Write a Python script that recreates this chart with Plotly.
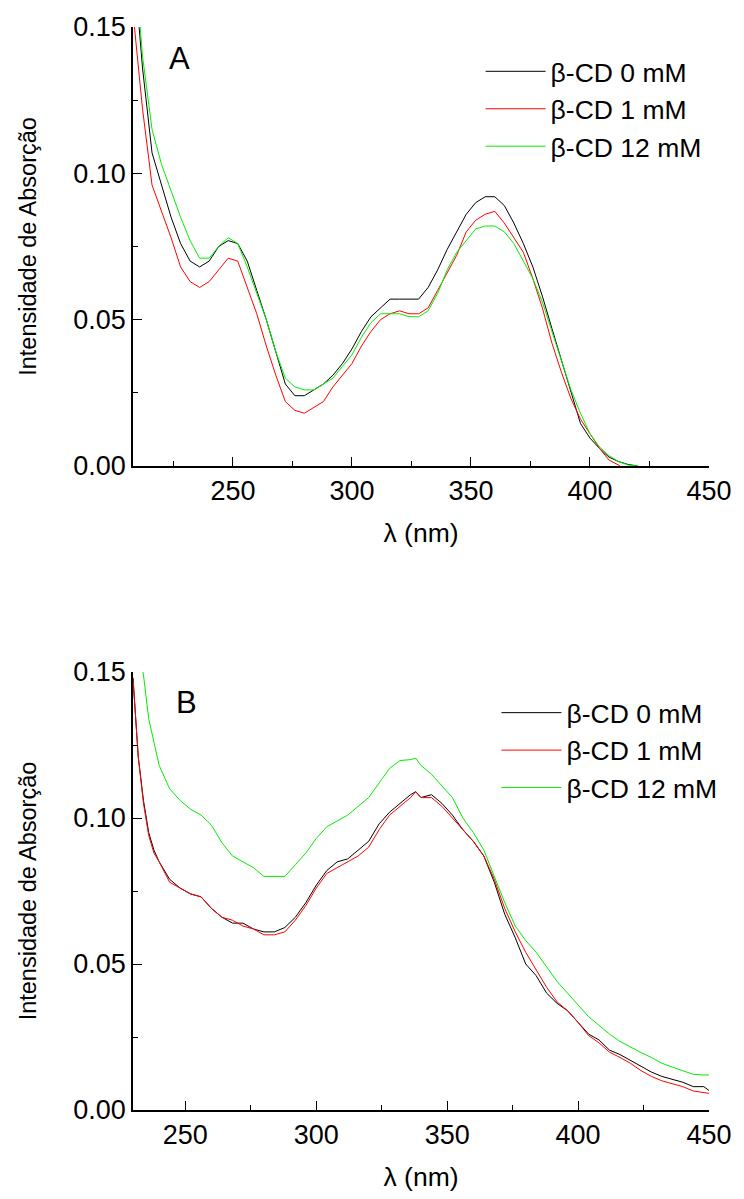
import plotly.graph_objects as go

# ---------------- Panel A data ----------------
wl_A = [208, 212, 216, 220, 224, 228, 232, 236, 240, 244, 248, 252, 256, 260, 264, 268,
        272, 276, 280, 284, 288, 292, 296, 300, 304, 308, 312, 316, 320, 324, 328, 332,
        336, 340, 344, 348, 352, 356, 360, 364, 368, 372, 376, 380, 384, 388, 392, 396,
        400, 404, 408, 412, 416, 420]
a_cd0 = [0.175, 0.136, 0.107, 0.096, 0.085, 0.076, 0.070, 0.068, 0.070, 0.075, 0.077, 0.076,
         0.070, 0.060, 0.050, 0.039, 0.028, 0.024, 0.024, 0.026, 0.028, 0.031, 0.035, 0.040,
         0.046, 0.051, 0.054, 0.057, 0.057, 0.057, 0.057, 0.061, 0.067, 0.074, 0.080, 0.086,
         0.090, 0.092, 0.092, 0.089, 0.083, 0.076, 0.068, 0.058, 0.047, 0.036, 0.025, 0.0145,
         0.0095, 0.006, 0.003, 0.0015, 0.0005, 0.0]
a_cd1 = [0.155, 0.122, 0.096, 0.087, 0.078, 0.068, 0.063, 0.061, 0.063, 0.067, 0.071, 0.070,
         0.061, 0.052, 0.041, 0.031, 0.022, 0.019, 0.018, 0.020, 0.022, 0.027, 0.031, 0.035,
         0.041, 0.046, 0.050, 0.052, 0.053, 0.052, 0.052, 0.054, 0.060, 0.066, 0.072, 0.080,
         0.084, 0.086, 0.087, 0.083, 0.078, 0.073, 0.064, 0.054, 0.042, 0.032, 0.023, 0.016,
         0.011, 0.006, 0.002, 0.0003, -0.002, -0.004]
a_cd12 = [0.180, 0.140, 0.115, 0.103, 0.094, 0.085, 0.077, 0.071, 0.071, 0.075, 0.078, 0.076,
          0.068, 0.059, 0.050, 0.039, 0.030, 0.027, 0.026, 0.026, 0.028, 0.030, 0.034, 0.038,
          0.044, 0.049, 0.052, 0.052, 0.052, 0.051, 0.051, 0.053, 0.059, 0.067, 0.073, 0.077,
          0.081, 0.082, 0.082, 0.080, 0.076, 0.070, 0.064, 0.056, 0.046, 0.036, 0.026, 0.018,
          0.011, 0.0065, 0.0035, 0.0015, 0.0003, 0.0]

# ---------------- Panel B data ----------------
wl_B = [230, 232, 234, 236, 238, 240, 244, 248, 252, 256, 260, 264, 268, 272, 276, 280,
        284, 288, 292, 296, 300, 304, 308, 312, 316, 320, 324, 328, 332, 336, 338, 340,
        344, 348, 352, 356, 360, 364, 368, 372, 376, 380, 384, 388, 392, 396, 400, 404,
        408, 412, 416, 420, 424, 428, 432, 436, 440, 444, 448, 450]
b_cd0 = [0.148, 0.121, 0.106, 0.095, 0.089, 0.085, 0.079, 0.076, 0.074, 0.073, 0.069, 0.066,
         0.064, 0.064, 0.062, 0.061, 0.061, 0.0625, 0.066, 0.071, 0.077, 0.082, 0.085, 0.086,
         0.089, 0.092, 0.098, 0.102, 0.105, 0.108, 0.109, 0.107, 0.108, 0.105, 0.101, 0.096,
         0.092, 0.087, 0.078, 0.067, 0.059, 0.050, 0.046, 0.040, 0.0365, 0.034, 0.030, 0.026,
         0.024, 0.0205, 0.019, 0.017, 0.015, 0.013, 0.0115, 0.0105, 0.0095, 0.008, 0.008, 0.0067]
b_cd1 = [0.148, 0.121, 0.105, 0.094, 0.088, 0.085, 0.078, 0.076, 0.074, 0.073, 0.069, 0.066,
         0.065, 0.063, 0.062, 0.060, 0.060, 0.061, 0.065, 0.070, 0.076, 0.081, 0.083, 0.085,
         0.087, 0.090, 0.096, 0.101, 0.104, 0.107, 0.109, 0.107, 0.107, 0.104, 0.100, 0.096,
         0.092, 0.087, 0.079, 0.069, 0.061, 0.054, 0.048, 0.042, 0.037, 0.034, 0.030, 0.0255,
         0.023, 0.0198, 0.018, 0.016, 0.0135, 0.0115, 0.010, 0.009, 0.008, 0.0065, 0.0058, 0.0057]
b_cd12 = [0.175, 0.160, 0.149, 0.134, 0.126, 0.118, 0.110, 0.106, 0.103, 0.101, 0.0975, 0.0915,
          0.087, 0.085, 0.083, 0.080, 0.080, 0.080, 0.084, 0.088, 0.093, 0.097, 0.099, 0.101,
          0.104, 0.107, 0.112, 0.117, 0.1197, 0.120, 0.1205, 0.118, 0.115, 0.111, 0.107, 0.100,
          0.095, 0.089, 0.080, 0.071, 0.063, 0.058, 0.054, 0.049, 0.044, 0.040, 0.036, 0.032,
          0.029, 0.026, 0.0235, 0.0215, 0.0197, 0.018, 0.016, 0.0147, 0.0135, 0.0122, 0.012, 0.012]

series_names = ["\u03b2-CD 0 mM", "\u03b2-CD 1 mM", "\u03b2-CD 12 mM"]
colors = ["#000000", "#ff0000", "#00ee00"]

FONT = "Liberation Sans, Arial, Helvetica, sans-serif"

fig = go.Figure()
for name, col, ys in zip(series_names, colors, [a_cd0, a_cd1, a_cd12]):
    fig.add_trace(go.Scatter(x=wl_A, y=ys, mode="lines", name=name,
                             line=dict(color=col, width=1), xaxis="x", yaxis="y",
                             legend="legend"))
for name, col, ys in zip(series_names, colors, [b_cd0, b_cd1, b_cd12]):
    fig.add_trace(go.Scatter(x=wl_B, y=ys, mode="lines", name=name,
                             line=dict(color=col, width=1), xaxis="x2", yaxis="y2",
                             legend="legend2"))

axis_common = dict(showline=True, linecolor="black", linewidth=1.5, mirror=False,
                   showgrid=False, zeroline=False, ticks="inside", ticklen=9,
                   tickwidth=1.2, tickcolor="black",
                   tickfont=dict(family=FONT, size=27, color="black"))
xcommon = dict(axis_common, dtick=50,
               minor=dict(dtick=25, ticks="inside", ticklen=5, tickwidth=1.2, tickcolor="black"),
               title=dict(text="\u03bb (nm)", font=dict(family=FONT, size=26.5, color="black"),
                          standoff=18))
ycommon = dict(axis_common, tickvals=[0, 0.05, 0.10, 0.15], tickformat=".2f",
               minor=dict(dtick=0.025, ticks="inside", ticklen=5, tickwidth=1.2, tickcolor="black"),
               title=dict(text="Intensidade de Absor\u00e7\u00e3o",
                          font=dict(family=FONT, size=23.5, color="black"), standoff=30))

fig.update_layout(
    width=744, height=1199,
    margin=dict(l=133, r=25, t=25, b=86),
    paper_bgcolor="white", plot_bgcolor="white",
    font=dict(family=FONT, color="black"),
    xaxis=dict(xcommon, range=[208, 450], domain=[0, 1], anchor="y"),
    yaxis=dict(ycommon, range=[0, 0.15], domain=[0.5947, 1], anchor="x"),
    xaxis2=dict(xcommon, range=[230, 450], domain=[0, 1], anchor="y2"),
    yaxis2=dict(ycommon, range=[0, 0.15], domain=[0, 0.4044], anchor="x2"),
    legend=dict(x=0.6035, y=0.981, xanchor="left", yanchor="top", bgcolor="rgba(0,0,0,0)",
                font=dict(family=FONT, size=26.5, color="black"), itemwidth=60,
                borderwidth=0),
    legend2=dict(x=0.631, y=0.3888, xanchor="left", yanchor="top", bgcolor="rgba(0,0,0,0)",
                 font=dict(family=FONT, size=26.5, color="black"), itemwidth=60,
                 borderwidth=0),
    annotations=[
        dict(text="A", xref="paper", yref="paper", x=0.08, y=0.971, showarrow=False,
             xanchor="center", yanchor="middle", font=dict(family=FONT, size=31, color="black")),
        dict(text="B", xref="paper", yref="paper", x=0.093, y=0.376, showarrow=False,
             xanchor="center", yanchor="middle", font=dict(family=FONT, size=31, color="black")),
    ],
    showlegend=True,
)

fig.write_html("out.html")
